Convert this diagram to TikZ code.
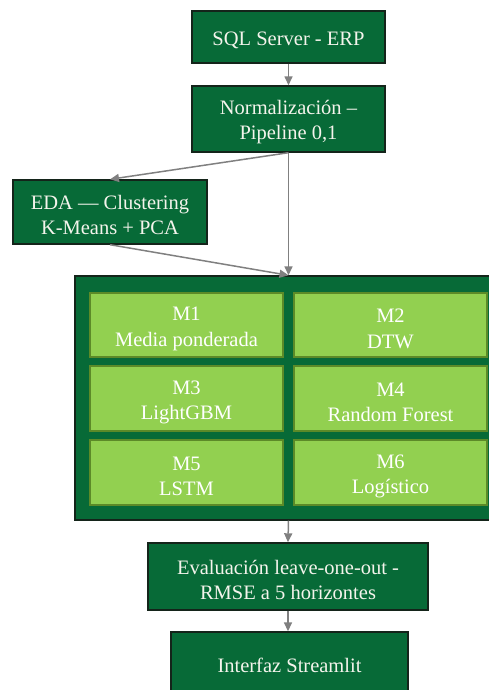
\documentclass[tikz,border=0pt]{standalone}
\usepackage{fontspec}
\setmainfont{Liberation Serif}
\usetikzlibrary{arrows.meta}
\definecolor{darkgreen}{HTML}{076A37}
\definecolor{lightgreen}{HTML}{92D050}
\definecolor{leafedge}{HTML}{5C8A28}
\definecolor{boxedge}{HTML}{14241A}
\definecolor{flowgray}{HTML}{808080}
\definecolor{paletext}{HTML}{F4F4EC}
% tall invisible strut: lowers a text block a few points in its box
\newcommand\firstline{\rule{0pt}{21pt}}
\tikzset{
  stage/.style={draw=boxedge, line width=1.4pt, fill=darkgreen, text=paletext,
    align=center, inner sep=0pt, font=\fontsize{20.5}{25}\selectfont},
  model/.style={draw=leafedge, line width=1.6pt, fill=lightgreen, text=white,
    align=center, inner sep=0pt, minimum width=193pt, minimum height=64pt,
    font=\fontsize{20.5}{25.5}\selectfont},
  flow/.style={draw=flowgray, line width=1.5pt, -{Triangle[length=9pt,width=8pt]}}
}
\begin{document}
\begin{tikzpicture}[x=1pt,y=-1pt]
\useasboundingbox (0,0) rectangle (489,690);
\clip (0,0) rectangle (489,690);

% pipeline stages
\node[stage, minimum width=193pt, minimum height=52pt] (sql) at (288.5,37) {\firstline SQL Server - ERP};
\node[stage, minimum width=193pt, minimum height=66pt] (norm) at (288.5,119) {\firstline Normalización –\\Pipeline 0,1};
\node[stage, minimum width=194pt, minimum height=64pt] (eda) at (110,212) {\firstline EDA — Clustering\\K-Means + PCA};

% model block
\node[stage, minimum width=427pt, minimum height=244pt] (models) at (288.5,398) {};
\node[model] (m1) at (186.5,325) {\firstline M1\\Media ponderada};
\node[model] (m2) at (390.5,325) {\firstline M2\\DTW};
\node[model, minimum height=65pt] (m3) at (186.5,398.5) {\firstline M3\\LightGBM};
\node[model, minimum height=65pt] (m4) at (390.5,398.5) {\firstline M4\\Random Forest};
\node[model, minimum height=65pt] (m5) at (186.5,472.5) {\firstline M5\\LSTM};
\node[model, minimum height=65pt] (m6) at (390.5,472.5) {\firstline M6\\Logístico};

\node[stage, minimum width=280pt, minimum height=67pt] (eval) at (288,576.5) {\firstline Evaluación leave-one-out -\\RMSE a 5 horizontes};
\node[stage, minimum width=237pt, minimum height=66pt] (ui) at (289.5,665) {Interfaz Streamlit};

% connectors
\draw[flow] (sql.south) -- (norm.north);
\draw[flow] (norm.south) -- (eda.north);
\draw[flow] (norm.south) -- (models.north);
\draw[flow] (eda.south) -- (models.north);
\draw[flow] (models.south) -- (eval.north);
\draw[flow] (eval.south) -- (ui.north -| eval.south);
\end{tikzpicture}
\end{document}
